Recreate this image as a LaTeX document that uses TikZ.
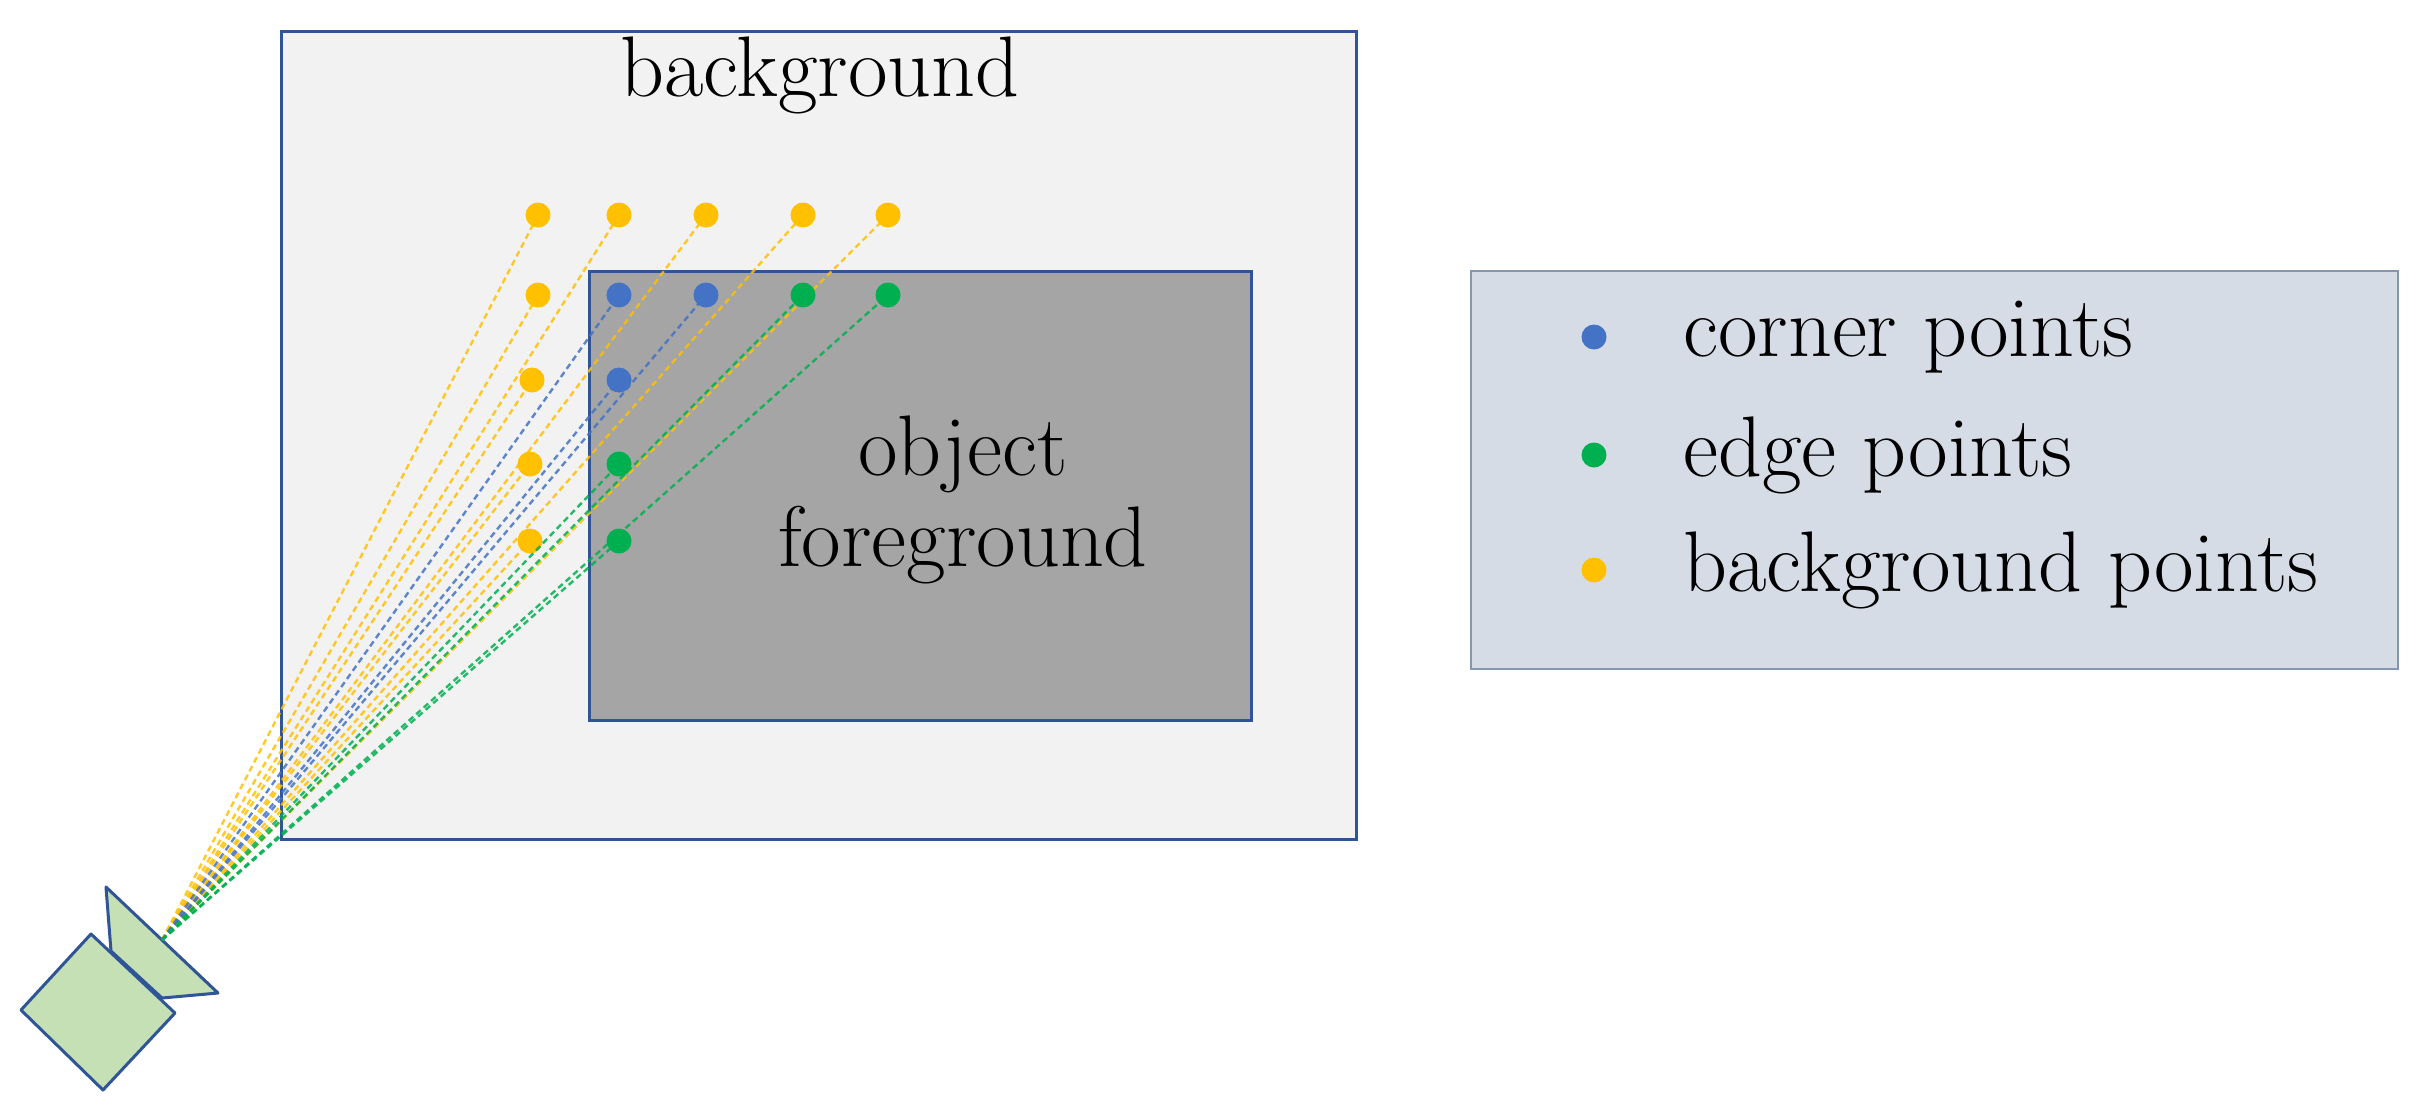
\documentclass[tikz,border=0pt]{standalone}
\begin{document}
\begin{tikzpicture}[x=1pt,y=-1pt,
  dot/.style={circle,inner sep=0pt,minimum size=25pt,draw=none},
  ray/.style={dashed,line width=2.4pt,dash pattern=on 6pt off 4pt},
  lbl/.style={font=\fontsize{86}{91}\selectfont,inner sep=0pt},
  frame/.style={draw=edgeblue,line width=3pt}]
\definecolor{edgeblue}{HTML}{2F5597}
\definecolor{cblue}{HTML}{4472C4}
\definecolor{cgreen}{HTML}{00B050}
\definecolor{cyel}{HTML}{FFC000}
\useasboundingbox (0,0) rectangle (2428,1112);
\fill[white] (0,0) rectangle (2428,1112);
\draw[frame,fill={rgb,255:red,242;green,242;blue,242}] (281,31) rectangle (1356,839);
\draw[frame,fill={rgb,255:red,165;green,165;blue,165}] (589,271) rectangle (1251,720);
\node[lbl] (bg) at (820,75) {background};
\node[lbl,align=center] (fg) at (963,500) {object\\foreground};
% camera
\coordinate (cam) at (162,940);
\begin{scope}[yshift=17pt]
\draw[frame,fill={rgb,255:red,197;green,224;blue,180},line join=round] (111,968) -- (106,904) -- (218,1010) -- (162,1015) -- cycle;
\draw[frame,fill={rgb,255:red,197;green,224;blue,180},line join=round] (21,1027) -- (91,951) -- (175,1030) -- (103,1107) -- cycle;
\end{scope}
% dots
\foreach \n/\x/\y/\c in {y1/538/215/cyel,y2/619/215/cyel,y3/706/215/cyel,y4/803/215/cyel,y5/888/215/cyel,
  y6/538/295/cyel,y7/532/380/cyel,y8/530/464/cyel,y9/530/541/cyel,
  b1/619/295/cblue,b2/706/295/cblue,b3/619/380/cblue,
  g1/803/295/cgreen,g2/888/295/cgreen,g3/619/464/cgreen,g4/619/541/cgreen}{
  \node[dot,fill=\c] (\n) at (\x,\y) {};
  \draw[ray,draw=\c,opacity=0.85] (cam) -- (\n.center);
}
% legend
\draw[line width=2.5pt,draw={rgb,255:red,132;green,151;blue,176},fill={rgb,255:red,214;green,220;blue,229}] (1471,271) rectangle (2398,669);
\node[dot,fill=cblue] (l1) at (1594,337) {};
\node[dot,fill=cgreen] (l2) at (1594,455) {};
\node[dot,fill=cyel] (l3) at (1594,570) {};
\node[lbl,anchor=west] (t1) at (1683,337) {corner points};
\node[lbl,anchor=west] (t2) at (1683,455) {edge points};
\node[lbl,anchor=west] (t3) at (1683,570) {background points};
\end{tikzpicture}
\end{document}
